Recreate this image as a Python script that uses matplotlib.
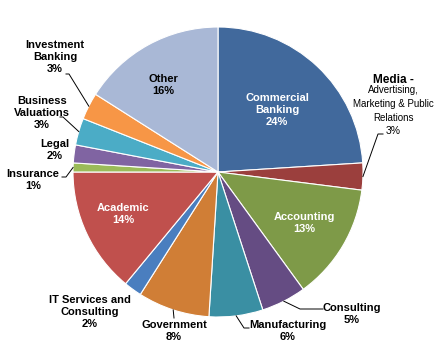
import numpy as np
import matplotlib
matplotlib.use("Agg")
import matplotlib.pyplot as plt

plt.rcParams['font.family'] = ['Liberation Sans', 'DejaVu Sans']

sectors = ["Commercial Banking", "Media", "Accounting", "Consulting", "Manufacturing",
           "Government", "IT Services and Consulting", "Academic", "Insurance", "Legal",
           "Business Valuations", "Investment Banking", "Other"]
shares = [24, 3, 13, 5, 6, 8, 2, 14, 1, 2, 3, 3, 16]
colors = ["#41699c", "#9b3f3d", "#7e9a48", "#654c83", "#3a8fa3", "#d07e36", "#4a7ebf",
          "#c0504d", "#9bbb59", "#8064a2", "#4bacc6", "#f79646", "#a9b8d6"]

W, H = 437, 346
CX, CY, R = 218, 172, 145


def px(x, y):
    # pixel position on the canvas -> pie data coords
    return (x - CX) / R, (CY - y) / R


fig = plt.figure(figsize=(W / 100, H / 100), dpi=100)
ax = fig.add_axes([(CX - R) / W, (H - CY - R) / H, 2 * R / W, 2 * R / H])
wedges, _ = ax.pie(shares, colors=colors, startangle=90, counterclock=False,
                   wedgeprops=dict(edgecolor="white", linewidth=0.8))
ax.set_xlim(-1, 1)
ax.set_ylim(-1, 1)
ax.set_aspect("auto")
ax.axis("off")

# label text, colour and centre position in canvas pixels
labels = {
    "Commercial Banking": ("Commercial\nBanking\n24%", "white", (277, 110)),
    "Other": ("Other\n16%", "black", (163, 85)),
    "Accounting": ("Accounting\n13%", "white", (304, 223)),
    "Academic": ("Academic\n14%", "white", (123, 214)),
    "Investment Banking": ("Investment\nBanking\n3%", "black", (55, 57)),
    "Business Valuations": ("Business\nValuations\n3%", "black", (42, 113)),
    "Legal": ("Legal\n2%", "black", (55, 150)),
    "Insurance": ("Insurance\n1%", "black", (33, 180)),
    "IT Services and Consulting": ("IT Services and\nConsulting\n2%", "black", (90, 312)),
    "Government": ("Government\n8%", "black", (174, 331)),
    "Manufacturing": ("Manufacturing\n6%", "black", (288, 331)),
    "Consulting": ("Consulting\n5%", "black", (352, 314)),
}
for name, (txt, col, pos) in labels.items():
    ax.text(*px(*pos), txt, ha="center", va="center", color=col, fontsize=8,
            fontweight="bold", linespacing=1.25)

# media label: bold heading plus smaller description
ax.text(*px(393, 80), "Media -", ha="center", va="center", fontsize=8.5, fontweight="bold")
ax.text(*px(393, 104), "Advertising,\nMarketing & Public\nRelations", ha="center",
        va="center", fontsize=7, linespacing=1.45)
ax.text(*px(393, 131), "3%", ha="center", va="center", fontsize=7.5)

# leader lines: from wedge edge to elbow to label
leaders = {
    "Media": [(378, 134), (383, 134)],
    "Investment Banking": [(69, 74), (66, 74)],
    "Business Valuations": [(63, 117), (60, 117)],
    "Insurance": [(66, 177), (62, 177)],
    "Government": [(174, 318)],
    "Manufacturing": [(244, 328), (249, 328)],
    "Consulting": [(300, 309), (323, 309)],
}
for name, pts in leaders.items():
    w = wedges[sectors.index(name)]
    mid = np.deg2rad((w.theta1 + w.theta2) / 2)
    xs = [np.cos(mid)]
    ys = [np.sin(mid)]
    for p in pts:
        dx, dy = px(*p)
        xs.append(dx)
        ys.append(dy)
    ax.plot(xs, ys, color="black", lw=0.7, clip_on=False)

fig.savefig("out.png", dpi=100)
